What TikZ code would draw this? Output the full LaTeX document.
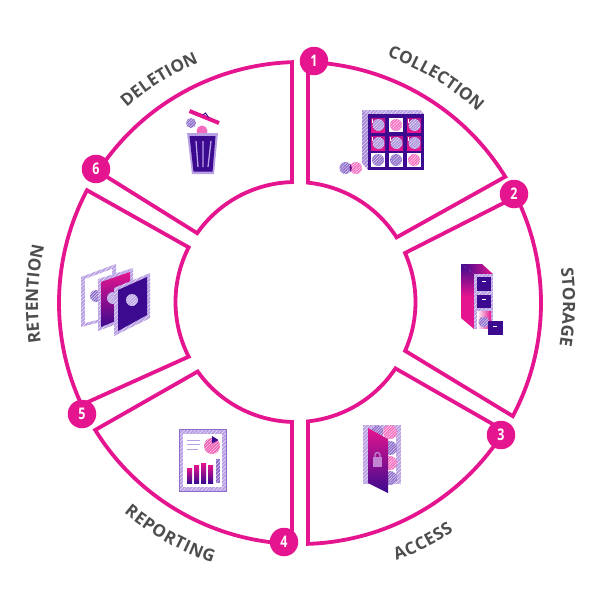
\documentclass[tikz,border=0pt]{standalone}
\usepackage{fontspec}
\usepackage{graphicx}
\setmainfont{Open Sans}
\usetikzlibrary{decorations.text,patterns.meta,calc}
\definecolor{mag}{HTML}{E5148F}
\definecolor{dark}{HTML}{3B0A8F}
\definecolor{lav}{HTML}{B9A0E4}
\definecolor{pinkd}{HTML}{F56CBE}
\definecolor{purd}{HTML}{8E6CCB}
\definecolor{lbl}{HTML}{4D4D4D}
\tikzset{
  sector/.style={draw=mag,line width=3.8pt,line join=miter,miter limit=10},
  numdot/.style={circle,fill=mag,minimum size=28.5pt,inner sep=0pt,text=white,font=\fontsize{16}{16}\selectfont\bfseries},
  stipple/.style={pattern={Lines[angle=45,distance=2.6pt,line width=.3pt]},pattern color=white},
}
\newcommand{\num}[1]{\scalebox{.78}[1]{#1}}
\newcommand{\sectorshape}[4]{%
  \draw[sector] ([shift={(CO)}]#1:241pt) arc[start angle=#1,end angle=#2,radius=241pt]
    -- ([shift={(CI)}]#4:120pt) arc[start angle=#4,end angle=#3,radius=120pt] -- cycle;}
\newcommand{\hdisc}[4]{%
  \fill[#4] (#1,#2) circle[radius=#3pt];
  \path[pattern={Lines[angle=45,distance=2pt,line width=.45pt]},pattern color=white,opacity=.8] (#1,#2) circle[radius=#3pt];}
% #1 start angle, #2 end angle, #3 radius, #4 text
\newcommand{\arclabel}[4]{%
  \path[decorate,decoration={text along path,text align={fit to path},
     text={|\fontsize{17}{17}\selectfont\bfseries\color{lbl}|#4}}]
     ([shift={(CO)}]#1:#3pt) arc[start angle=#1,end angle=#2,radius=#3pt];}
\newcommand{\gcell}[2]{%
  \shade[top color=mag!75!dark,bottom color=mag] (#1,#2) rectangle ++(14,14);
  \fill[white] (#1+.5,#2+1) rectangle ++(1,4);
  \hdisc{#1+7.5}{#2+7}{6}{lav!90!dark}}
\newcommand{\wcell}[4]{%
  \fill[white] (#1,#2) rectangle ++(14,14);
  \hdisc{#1+7}{#2+7}{6}{#3}}
\begin{document}
\begin{tikzpicture}[x=1pt,y=-1pt]
\useasboundingbox (0,0) rectangle (600,600);
\coordinate (CO) at (300,303);
\coordinate (CI) at (295.5,302);
\sectorshape{88.1}{31.6}{84}{32.6}
\sectorshape{26.2}{-28}{24.1}{-24}
\sectorshape{-32}{-88.1}{-33.6}{-84}
\sectorshape{-91.9}{-148.2}{-91.7}{-144.6}
\sectorshape{-155}{-207.9}{-152.9}{-207.1}
\sectorshape{146.9}{91.9}{145}{91.7}
% labels
\arclabel{70.5}{48.5}{261}{COLLECTION}
\arclabel{7.5}{-9.4}{263}{STORAGE}
\arclabel{-69.5}{-56}{275}{ACCESS}
\arclabel{-130}{-108.6}{274}{REPORTING}
\arclabel{188.6}{168.2}{262}{RETENTION}
\arclabel{131.6}{112.8}{261}{DELETION}
% collection icon
\fill[lav] (362,110) -- (420,110) -- (424,114) -- (368,114) -- cycle;
\fill[lav!85!dark] (362,110) -- (368,114) -- (368,170) -- (362,163) -- cycle;
\path[stipple] (362,110) -- (420,110) -- (424,114) -- (368,114) -- cycle;
\path[stipple] (362,110) -- (368,114) -- (368,170) -- (362,163) -- cycle;
\fill[dark] (368,114) rectangle (424,170);
\gcell{371}{118}
\wcell{389}{118}{pinkd}{}
\gcell{407}{118}
\gcell{371}{136}
\gcell{389}{136}
\gcell{407}{136}
\wcell{371}{153}{purd}{}
\wcell{389}{153}{purd}{}
\wcell{407}{153}{pinkd}{}
\hdisc{345.5}{168}{6}{purd}
\hdisc{356}{168}{6}{pinkd}
\fill[dark!70!mag] (350.5,164) -- (352,168) -- (350.5,172) -- (349.5,168) -- cycle;
% storage icon
\shade[top color=dark,bottom color=mag,middle color=mag] (461,264) -- (474,274) -- (474,329) -- (461,318) -- cycle;
\shade[left color=dark,right color=mag] (461,264) -- (482,264) -- (493,274) -- (474,274) -- cycle;
\fill[lav] (474,274) rectangle (493,329);
\path[stipple] (474,274) rectangle (493,329);
\fill[dark] (477,277) rectangle (491,291);
\fill[dark] (477,295) rectangle (491,308);
\shade[left color=white,right color=mag] (477,311) rectangle (491,328);
\hdisc{484}{322}{5.5}{purd}
\fill[dark] (488,321) rectangle (503,335);
\fill[white] (482,281) rectangle (486,282);
\fill[white] (482,299) rectangle (486,300);
\fill[white] (493,325.5) rectangle (497,326.5);
% access icon
\fill[lav] (363,425) rectangle (401,484);
\path[stipple] (363,425) rectangle (401,484);
\fill[white] (368,429) rectangle (396,481);
\hdisc{377}{432}{6.5}{purd}
\hdisc{390}{432}{7}{pinkd}
\hdisc{390}{448}{7}{purd}
\hdisc{390}{463}{7}{pinkd}
\hdisc{390}{478}{7}{purd}
\shade[top color=mag,bottom color=dark] (368,428) -- (388,439) -- (388,493) -- (368,483) -- cycle;
\fill[lav!80!mag] (373,457) rectangle (382,467);
\draw[lav!80!mag,line width=1.3pt] (375,457) -- (375,455) arc[start angle=180,end angle=0,radius=2.5pt] -- (380,457);
% reporting icon
\fill[lav] (179,429) rectangle (226,491);
\path[stipple] (179,429) rectangle (226,491);
\draw[purd,line width=.5pt] (179,429) rectangle (226,491);
\fill[white] (183,434) rectangle (222,487);
\draw[lav,line width=.8pt] (187,440) -- (200,440) (187,444) -- (200,444) (187,449) -- (198,449);
\hdisc{212}{446}{8}{mag!70!white}
\fill[dark] (212,436) -- (218.5,440) -- (212,443.5) -- cycle;
\foreach \bx/\by in {187/468,194/465,201/463,208/465}{
  \shade[top color=mag,bottom color=dark] (\bx,\by) rectangle (\bx+5,483);}
\fill[purd] (216,459) rectangle (220,483);
\path[stipple] (216,459) rectangle (220,483);
% retention icon
\fill[lav] (81,277) -- (116,264) -- (116,318) -- (81,327) -- cycle;
\path[stipple] (81,277) -- (116,264) -- (116,318) -- (81,327) -- cycle;
\fill[white] (85,279) -- (112,269) -- (112,316) -- (85,323) -- cycle;
\hdisc{96}{296}{6}{purd}
\fill[lav] (98,279) -- (133,268) -- (133,318) -- (98,331) -- cycle;
\path[stipple] (98,279) -- (133,268) -- (133,318) -- (98,331) -- cycle;
\shade[top color=mag,middle color=mag,bottom color=dark] (101,282) -- (130,272) -- (130,315) -- (101,327) -- cycle;
\hdisc{113}{298}{6}{lav}
\fill[lav] (114,288) -- (150,273) -- (150,318) -- (114,336) -- cycle;
\path[stipple] (114,288) -- (150,273) -- (150,318) -- (114,336) -- cycle;
\fill[dark] (118,290) -- (147,277) -- (147,315) -- (118,331) -- cycle;
\hdisc{132}{300}{6}{lav}
% deletion icon
\draw[mag,line width=4pt] (189.5,111) -- (219,123);
\draw[dark,line width=1pt] (203,115) -- (205.5,113) -- (208.5,117.5);
\hdisc{191}{123}{5}{purd}
\fill[pinkd] (202,131) circle[radius=5.5pt];
\fill[lav] (187,133) -- (218,133) -- (214,174) -- (192,174) -- cycle;
\fill[dark] (189.5,136) -- (215.5,136) -- (212.5,171.5) -- (193.5,171.5) -- cycle;
\draw[lav,line width=1.3pt] (196,141) -- (198,167) (203,141) -- (203,167) (211,141) -- (208,167);
% numbers
\node[numdot] (n1) at (314,61) {\num{1}};
\node[numdot] (n2) at (514,194) {\num{2}};
\node[numdot] (n3) at (501,435) {\num{3}};
\node[numdot] (n4) at (284,542) {\num{4}};
\node[numdot] (n5) at (82,414) {\num{5}};
\node[numdot] (n6) at (96,169) {\num{6}};
\end{tikzpicture}
\end{document}
